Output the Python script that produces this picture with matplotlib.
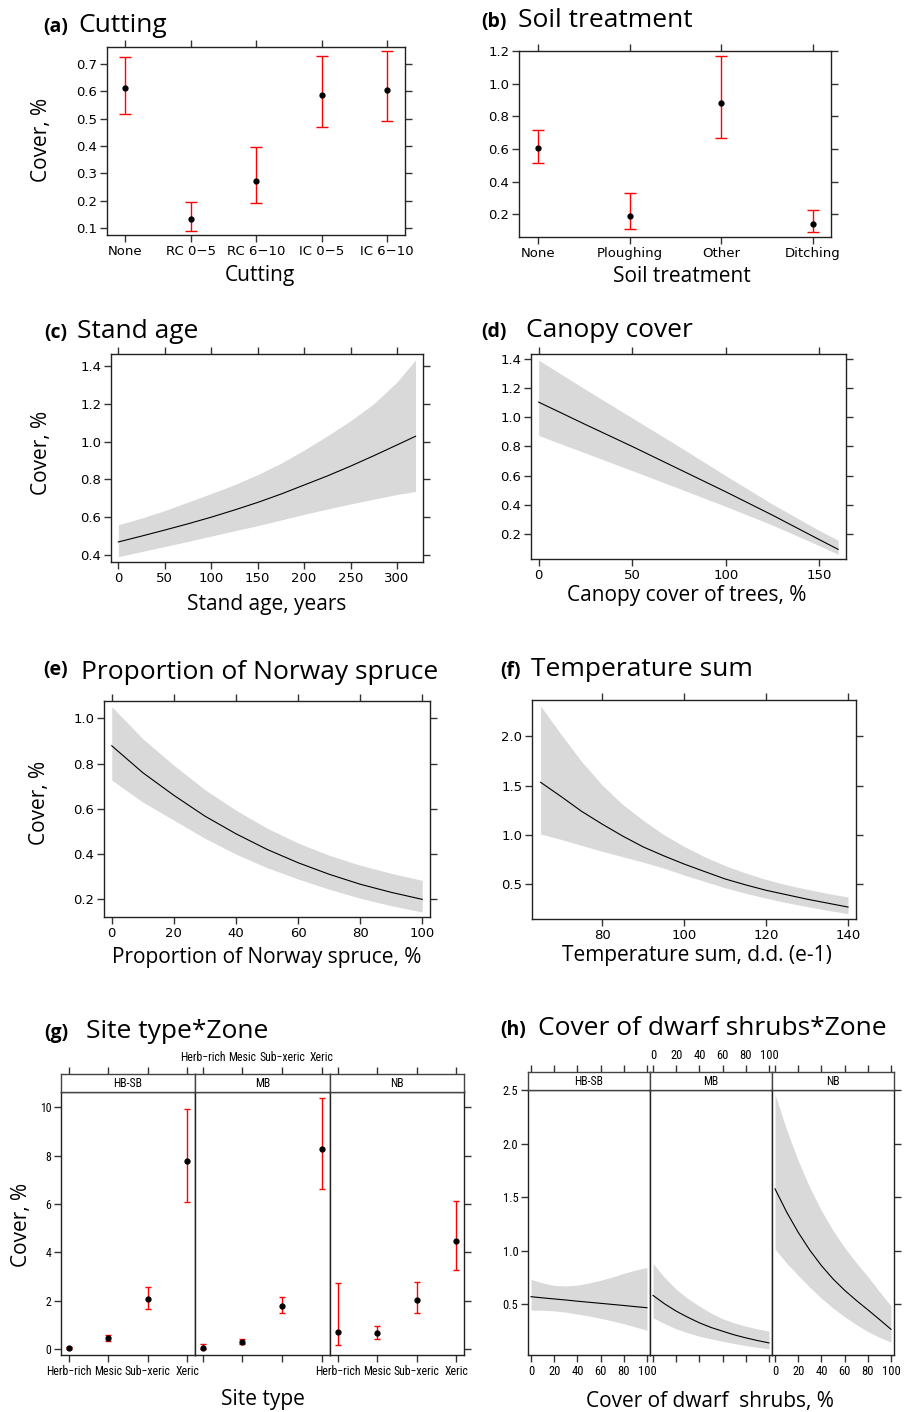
import numpy as np
import matplotlib
matplotlib.use("Agg")
import matplotlib.pyplot as plt
from matplotlib import font_manager as fm

# ---------------- data ----------------
cut_cats = ["None", "RC 0\u22125", "RC 6\u221210", "IC 0\u22125", "IC 6\u221210"]
cut_fit = [0.612, 0.132, 0.273, 0.585, 0.606]
cut_lo = [0.517, 0.090, 0.190, 0.471, 0.490]
cut_hi = [0.726, 0.194, 0.396, 0.728, 0.749]

soil_cats = ["None", "Ploughing", "Other", "Ditching"]
soil_fit = [0.606, 0.190, 0.882, 0.141]
soil_lo = [0.514, 0.108, 0.665, 0.090]
soil_hi = [0.714, 0.333, 1.171, 0.224]

age_x = [0, 25, 50, 75, 100, 125, 150, 175, 200, 225, 250, 275, 300, 320]
age_fit = [0.469, 0.500, 0.532, 0.565, 0.600, 0.638, 0.678, 0.722, 0.770, 0.818, 0.870, 0.925, 0.982, 1.028]
age_lo = [0.391, 0.418, 0.445, 0.472, 0.500, 0.528, 0.555, 0.585, 0.615, 0.643, 0.670, 0.695, 0.720, 0.736]
age_hi = [0.560, 0.595, 0.635, 0.680, 0.725, 0.772, 0.825, 0.885, 0.955, 1.030, 1.110, 1.200, 1.315, 1.432]

canopy_x = [0, 25, 50, 75, 100, 125, 150, 160]
canopy_fit = [1.103, 0.950, 0.800, 0.645, 0.490, 0.330, 0.163, 0.097]
canopy_lo = [0.875, 0.755, 0.635, 0.513, 0.390, 0.262, 0.122, 0.063]
canopy_hi = [1.390, 1.190, 0.995, 0.800, 0.600, 0.405, 0.225, 0.159]

spruce_x = [0, 10, 20, 30, 40, 50, 60, 70, 80, 90, 100]
spruce_fit = [0.879, 0.760, 0.660, 0.568, 0.490, 0.421, 0.362, 0.311, 0.267, 0.231, 0.200]
spruce_lo = [0.727, 0.630, 0.550, 0.470, 0.400, 0.340, 0.290, 0.245, 0.205, 0.172, 0.144]
spruce_hi = [1.052, 0.910, 0.793, 0.685, 0.594, 0.515, 0.449, 0.395, 0.351, 0.315, 0.284]

temp_x = [65, 70, 75, 80, 85, 90, 95, 100, 105, 110, 115, 120, 125, 130, 135, 140]
temp_fit = [1.534, 1.390, 1.240, 1.111, 0.990, 0.880, 0.790, 0.706, 0.630, 0.555,
            0.495, 0.440, 0.395, 0.350, 0.310, 0.270]
temp_lo = [1.010, 0.955, 0.895, 0.835, 0.780, 0.725, 0.665, 0.595, 0.530, 0.465,
           0.410, 0.360, 0.315, 0.275, 0.237, 0.203]
temp_hi = [2.307, 2.020, 1.745, 1.507, 1.310, 1.150, 1.005, 0.885, 0.780, 0.690,
           0.615, 0.550, 0.495, 0.450, 0.408, 0.372]

zones = ["HB-SB", "MB", "NB"]
site_cats = ["Herb\u2212rich", "Mesic", "Sub\u2212xeric", "Xeric"]
site_fit_hbsb = [0.04, 0.45, 2.07, 7.77]
site_lo_hbsb = [0.01, 0.33, 1.65, 6.07]
site_hi_hbsb = [0.10, 0.58, 2.56, 9.93]
site_fit_mb = [0.03, 0.30, 1.79, 8.29]
site_lo_mb = [0.005, 0.21, 1.49, 6.63]
site_hi_mb = [0.19, 0.43, 2.15, 10.37]
site_fit_nb = [0.70, 0.65, 2.01, 4.48]
site_lo_nb = [0.18, 0.41, 1.47, 3.25]
site_hi_nb = [2.71, 0.94, 2.75, 6.14]

dwarf_x = [0, 10, 20, 30, 40, 50, 60, 70, 80, 90, 100]
dwarf_fit_hbsb = [0.572, 0.561, 0.551, 0.541, 0.530, 0.520, 0.510, 0.500, 0.490, 0.479, 0.469]
dwarf_lo_hbsb = [0.447, 0.445, 0.440, 0.428, 0.410, 0.392, 0.370, 0.346, 0.320, 0.290, 0.259]
dwarf_hi_hbsb = [0.734, 0.700, 0.677, 0.672, 0.680, 0.700, 0.725, 0.755, 0.790, 0.820, 0.844]
dwarf_fit_mb = [0.584, 0.505, 0.437, 0.380, 0.328, 0.285, 0.250, 0.216, 0.188, 0.163, 0.141]
dwarf_lo_mb = [0.375, 0.320, 0.272, 0.235, 0.203, 0.178, 0.156, 0.135, 0.116, 0.100, 0.085]
dwarf_hi_mb = [0.881, 0.750, 0.641, 0.555, 0.484, 0.420, 0.366, 0.328, 0.297, 0.272, 0.250]
dwarf_fit_nb = [1.578, 1.362, 1.172, 1.006, 0.862, 0.738, 0.632, 0.538, 0.450, 0.360, 0.268]
dwarf_lo_nb = [1.016, 0.885, 0.770, 0.660, 0.558, 0.466, 0.385, 0.312, 0.247, 0.193, 0.149]
dwarf_hi_nb = [2.460, 2.130, 1.840, 1.590, 1.375, 1.190, 1.030, 0.890, 0.760, 0.620, 0.487]

# ---------------- fonts ----------------
names = {f.name for f in fm.fontManager.ttflist}
TF = "Open Sans" if "Open Sans" in names else "DejaVu Sans"
if "Liberation Sans Narrow" in names:
    COND = dict(family="Liberation Sans Narrow")
elif "Roboto Condensed" in names:
    COND = dict(family="Roboto Condensed")
elif any(f.name == "DejaVu Sans" and f.stretch == "condensed" for f in fm.fontManager.ttflist):
    COND = dict(family="DejaVu Sans", stretch="condensed")
else:
    COND = dict(family="DejaVu Sans")

plt.rcParams["font.family"] = ["DejaVu Sans"]

W, H = 912, 1412
fig = plt.figure(figsize=(W / 100, H / 100), dpi=100)
fig.patch.set_facecolor("white")

BAND = "#d9d9d9"
TICKC = "#333333"


def add_ax(l, t, r, b):
    return fig.add_axes([l / W, 1 - b / H, (r - l) / W, (b - t) / H])


def ftext(x, y, s, **kw):
    return fig.text(x / W, 1 - y / H, s, **kw)


def style(ax, labelsize=9.5):
    for s in ax.spines.values():
        s.set_linewidth(1.0)
        s.set_color("#222222")
    ax.tick_params(direction="out", length=5, width=1.0, color=TICKC,
                   top=True, right=True, labeltop=False, labelright=False,
                   labelsize=labelsize, pad=2)


def title(xl, xt, yb, lab, txt, yb2=None):
    ftext(xl, yb, lab, fontsize=14, weight="bold", family=TF, va="baseline", ha="left")
    ftext(xt, yb if yb2 is None else yb2, txt, fontsize=19, family=TF, va="baseline", ha="left")


def errpanel(ax, cats, fit, lo, hi, capsize=4):
    x = np.arange(1, len(cats) + 1)
    fit = np.array(fit); lo = np.array(lo); hi = np.array(hi)
    ax.errorbar(x, fit, yerr=[fit - lo, hi - fit], fmt="none", ecolor="red",
                elinewidth=1.0, capsize=capsize, capthick=1.0, zorder=2)
    ax.plot(x, fit, "o", color="black", ms=3.5, zorder=3)
    ax.set_xticks(x)
    ax.set_xticklabels(cats)


def curvepanel(ax, x, fit, lo, hi):
    ax.fill_between(x, lo, hi, color=BAND, lw=0, zorder=1)
    ax.plot(x, fit, color="black", lw=0.8, zorder=2)


# ---------------- (a) ----------------
ax = add_ax(107, 47, 405, 235)
errpanel(ax, cut_cats, cut_fit, cut_lo, cut_hi)
ax.set_xlim(0.725, 5.27)
ax.set_ylim(0.074, 0.762)
ax.set_yticks([0.1, 0.2, 0.3, 0.4, 0.5, 0.6, 0.7])
ax.set_yticklabels(["0.1", "0.2", "0.3", "0.4", "0.5", "0.6", "0.7"])
style(ax)
title(43, 78, 32, "(a)", "Cutting")
ftext(42, 140, "Cover, %", fontsize=15, family=TF, rotation=90, ha="center", va="center")
ftext(260, 276, "Cutting", fontsize=15, family=TF, ha="center", va="center")

# ---------------- (b) ----------------
ax = add_ax(519, 51, 831, 237)
errpanel(ax, soil_cats, soil_fit, soil_lo, soil_hi)
ax.set_xlim(0.79, 4.2)
ax.set_ylim(0.061, 1.2)
ax.set_yticks([0.2, 0.4, 0.6, 0.8, 1.0, 1.2])
ax.set_yticklabels(["0.2", "0.4", "0.6", "0.8", "1.0", "1.2"])
style(ax)
title(481, 518, 27, "(b)", "Soil treatment")
ftext(682, 277, "Soil treatment", fontsize=15, family=TF, ha="center", va="center")

# ---------------- (c) ----------------
ax = add_ax(111, 354, 423, 562)
curvepanel(ax, age_x, age_fit, age_lo, age_hi)
ax.set_xlim(-7.9, 328)
ax.set_ylim(0.363, 1.463)
ax.set_xticks([0, 50, 100, 150, 200, 250, 300])
ax.set_yticks([0.4, 0.6, 0.8, 1.0, 1.2, 1.4])
ax.set_yticklabels(["0.4", "0.6", "0.8", "1.0", "1.2", "1.4"])
style(ax)
title(44, 77, 338, "(c)", "Stand age")
ftext(42, 453, "Cover, %", fontsize=15, family=TF, rotation=90, ha="center", va="center")
ftext(267, 605, "Stand age, years", fontsize=15, family=TF, ha="center", va="center")

# ---------------- (d) ----------------
ax = add_ax(531, 354, 846, 559)
curvepanel(ax, canopy_x, canopy_fit, canopy_lo, canopy_hi)
ax.set_xlim(-4.1, 164.2)
ax.set_ylim(0.031, 1.432)
ax.set_xticks([0, 50, 100, 150])
ax.set_yticks([0.2, 0.4, 0.6, 0.8, 1.0, 1.2, 1.4])
ax.set_yticklabels(["0.2", "0.4", "0.6", "0.8", "1.0", "1.2", "1.4"])
style(ax)
title(481, 526, 337, "(d)", "Canopy cover")
ftext(687, 596, "Canopy cover of trees, %", fontsize=15, family=TF, ha="center", va="center")

# ---------------- (e) ----------------
ax = add_ax(104, 701, 430, 917)
curvepanel(ax, spruce_x, spruce_fit, spruce_lo, spruce_hi)
ax.set_xlim(-2.5, 102.5)
ax.set_ylim(0.122, 1.077)
ax.set_xticks([0, 20, 40, 60, 80, 100])
ax.set_yticks([0.2, 0.4, 0.6, 0.8, 1.0])
ax.set_yticklabels(["0.2", "0.4", "0.6", "0.8", "1.0"])
style(ax)
title(43, 81, 675, "(e)", "Proportion of Norway spruce", yb2=679)
ftext(40, 803, "Cover, %", fontsize=15, family=TF, rotation=90, ha="center", va="center")
ftext(267, 958, "Proportion of Norway spruce, %", fontsize=15, family=TF, ha="center", va="center")

# ---------------- (f) ----------------
ax = add_ax(532, 700, 856, 919)
curvepanel(ax, temp_x, temp_fit, temp_lo, temp_hi)
ax.set_xlim(62.9, 141.95)
ax.set_ylim(0.149, 2.368)
ax.set_xticks([80, 100, 120, 140])
ax.set_yticks([0.5, 1.0, 1.5, 2.0])
ax.set_yticklabels(["0.5", "1.0", "1.5", "2.0"])
style(ax)
title(500, 531, 676, "(f)", "Temperature sum")
ftext(697, 955, "Temperature sum, d.d. (e-1)", fontsize=15, family=TF, ha="center", va="center")


# ---------------- lattice helpers ----------------
def cond_labels(labels, csize):
    for lab in labels:
        lab.set_fontsize(csize)
        lab.set_fontfamily(COND["family"])
        if "stretch" in COND:
            lab.set_fontstretch(COND["stretch"])


def lattice_style(ax, left, right, bottom_labels, csize=9):
    for s in ax.spines.values():
        s.set_linewidth(1.0)
        s.set_color("#222222")
    ax.tick_params(axis="x", direction="out", length=5, width=1.0, color=TICKC,
                   bottom=True, top=False, labelbottom=bottom_labels, labeltop=False, pad=2)
    ax.tick_params(axis="y", direction="out", length=5, width=1.0, color=TICKC,
                   left=left, right=right, labelleft=left, labelright=False, pad=2)
    cond_labels(ax.get_xticklabels() + ax.get_yticklabels(), csize)


def strip(l, t, r, b, text, xlim, xticks, xticklabels, toplabels, csize=9):
    s = add_ax(l, t, r, b)
    s.set_xlim(*xlim)
    s.set_ylim(0, 1)
    s.set_yticks([])
    s.set_xticks(xticks)
    s.set_xticklabels(xticklabels)
    for sp in s.spines.values():
        sp.set_linewidth(1.0)
        sp.set_color("#444444")
    s.tick_params(axis="x", direction="out", length=5, width=1.0, color=TICKC,
                  bottom=False, top=True, labelbottom=False, labeltop=toplabels, pad=2)
    cond_labels(s.get_xticklabels(), csize)
    s.text(0.5, 0.45, text, transform=s.transAxes, ha="center", va="center",
           fontsize=8.5, **COND)
    return s


# ---------------- (g) ----------------
gx = [61, 195, 330, 464]
g_fits = [site_fit_hbsb, site_fit_mb, site_fit_nb]
g_los = [site_lo_hbsb, site_lo_mb, site_lo_nb]
g_his = [site_hi_hbsb, site_hi_mb, site_hi_nb]
for i in range(3):
    ax = add_ax(gx[i], 1092, gx[i + 1], 1355)
    errpanel(ax, site_cats, g_fits[i], g_los[i], g_his[i], capsize=2.5)
    ax.set_xlim(0.806, 4.2)
    ax.set_ylim(-0.25, 10.63)
    ax.set_yticks([0, 2, 4, 6, 8, 10])
    ax.set_yticklabels(["0", "2", "4", "6", "8", "10"])
    lattice_style(ax, left=(i == 0), right=(i == 2), bottom_labels=(i != 1), csize=8.5)
    strip(gx[i], 1074, gx[i + 1], 1092, zones[i], (0.806, 4.2), [1, 2, 3, 4],
          site_cats, toplabels=(i == 1), csize=8.5)
title(44, 86, 1038, "(g)", "Site type*Zone")
ftext(22, 1225, "Cover, %", fontsize=15, family=TF, rotation=90, ha="center", va="center")
ftext(263, 1399, "Site type", fontsize=15, family=TF, ha="center", va="center")

# ---------------- (h) ----------------
hx = [528, 650, 772, 894]
h_fits = [dwarf_fit_hbsb, dwarf_fit_mb, dwarf_fit_nb]
h_los = [dwarf_lo_hbsb, dwarf_lo_mb, dwarf_lo_nb]
h_his = [dwarf_hi_hbsb, dwarf_hi_mb, dwarf_hi_nb]
dticks = [0, 20, 40, 60, 80, 100]
for i in range(3):
    ax = add_ax(hx[i], 1090, hx[i + 1], 1355)
    curvepanel(ax, dwarf_x, h_fits[i], h_los[i], h_his[i])
    ax.set_xlim(-2.6, 102.6)
    ax.set_ylim(0.028, 2.5)
    ax.set_xticks(dticks)
    ax.set_xticklabels([str(v) for v in dticks])
    ax.set_yticks([0.5, 1.0, 1.5, 2.0, 2.5])
    ax.set_yticklabels(["0.5", "1.0", "1.5", "2.0", "2.5"])
    lattice_style(ax, left=(i == 0), right=(i == 2), bottom_labels=(i != 1))
    strip(hx[i], 1072, hx[i + 1], 1090, zones[i], (-2.6, 102.6), dticks,
          [str(v) for v in dticks], toplabels=(i == 1))
title(500, 538, 1035, "(h)", "Cover of dwarf shrubs*Zone")
ftext(710, 1402, "Cover of dwarf  shrubs, %", fontsize=15, family=TF, ha="center", va="center")

fig.savefig("out.png", dpi=100, facecolor="white")
